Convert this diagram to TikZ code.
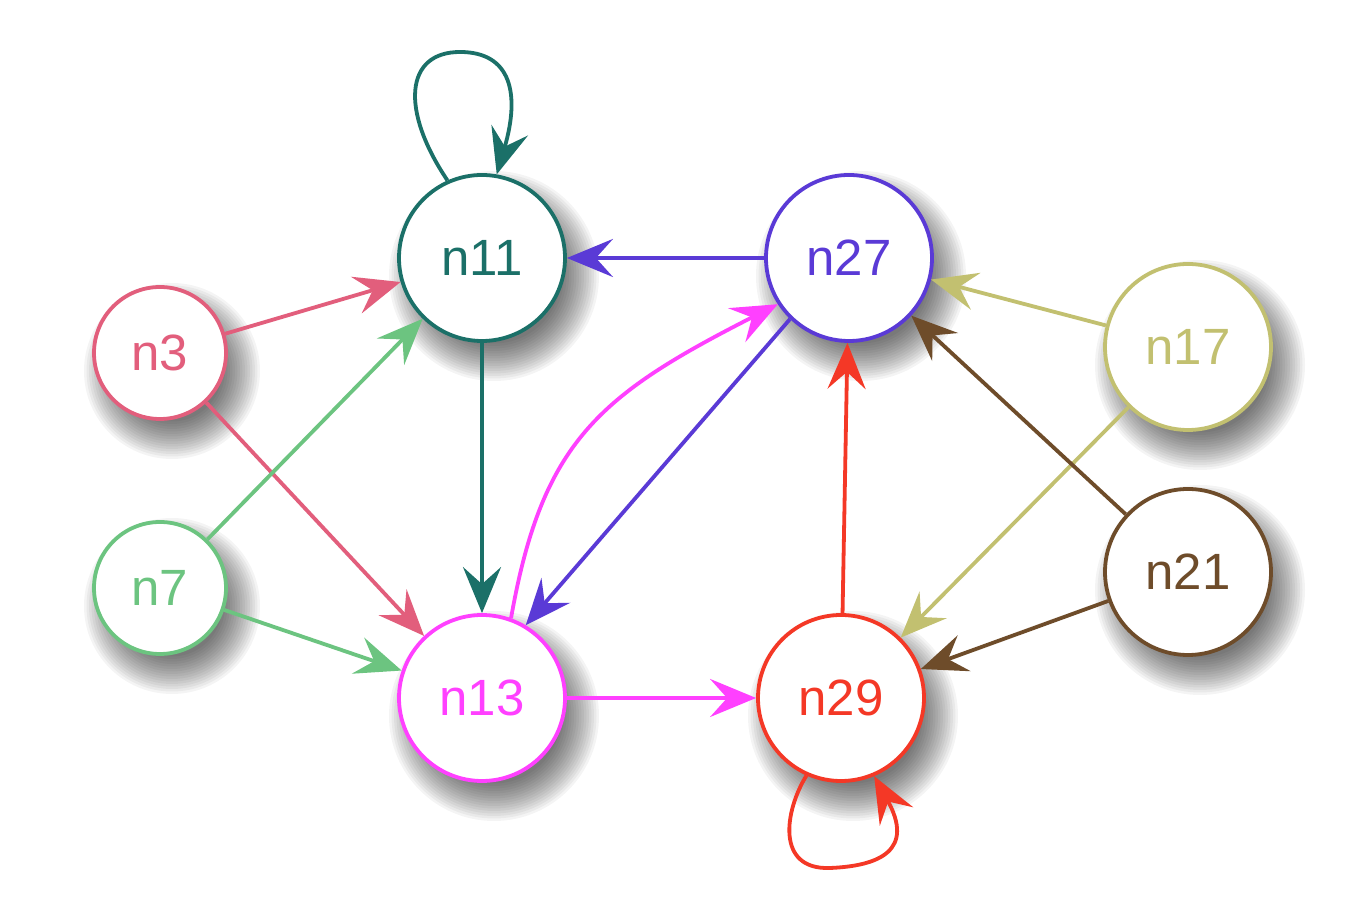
\documentclass[tikz,border=0pt]{standalone}
\usepackage{fontspec}
\setmainfont{Liberation Sans}
\usetikzlibrary{arrows.meta}
\definecolor{c3}{RGB}{226,94,124}
\definecolor{c7}{RGB}{108,196,128}
\definecolor{c11}{RGB}{27,112,104}
\definecolor{c13}{RGB}{255,64,255}
\definecolor{c27}{RGB}{90,58,214}
\definecolor{c29}{RGB}{244,56,38}
\definecolor{c17}{RGB}{194,192,112}
\definecolor{c21}{RGB}{110,76,42}
\begin{document}
\begin{tikzpicture}[x=1pt,y=1pt,
  nd/.style={circle, draw, fill=white, line width=3.8pt, inner sep=0pt, font=\fontsize{51}{60}\selectfont},
  bignode/.style={nd, minimum size=166pt},
  smallnode/.style={nd, minimum size=132pt},
  edge/.style={line width=3.8pt, -{Stealth[length=46pt,width=38pt,inset=17pt]}},
]
\useasboundingbox (0,0) rectangle (1360,920);
\fill[white] (0,0) rectangle (1360,920);
% shadows
\foreach \x/\y/\r in {160/567/66, 160/332/66, 482/662/83, 482/222/83, 849/662/83, 841/222/83, 1188/573/83, 1188/348/83} {
  \foreach \k in {0,...,15} \fill[black, opacity=0.045] (\x+12,\y-18) circle ({\r+22-2.5*\k});
}
% nodes
\node[smallnode, draw=c3, text=c3] (n3) at (160,567) {n3};
\node[smallnode, draw=c7, text=c7] (n7) at (160,332) {n7};
\node[bignode, draw=c11, text=c11] (n11) at (482,662) {n11};
\node[bignode, draw=c13, text=c13] (n13) at (482,222) {n13};
\node[bignode, draw=c27, text=c27] (n27) at (849,662) {n27};
\node[bignode, draw=c29, text=c29] (n29) at (841,222) {n29};
\node[bignode, draw=c17, text=c17] (n17) at (1188,573) {n17};
\node[bignode, draw=c21, text=c21] (n21) at (1188,348) {n21};
% edges
\draw[edge, c3] (n3) -- (n11);
\draw[edge, c3] (n3) -- (n13);
\draw[edge, c7] (n7) -- (n11);
\draw[edge, c7] (n7) -- (n13);
\draw[edge, c11] (n11) -- (n13);
\draw[edge, c11] (n11.114) .. controls (400,810) and (405,868) .. (460,868) .. controls (512,868) and (520,825) .. (n11.80);
\draw[edge, c27] (n27) -- (n11);
\draw[edge, c27] (n27.226) -- (n13.59);
\draw[edge, c13] (n13.70) .. controls +(80:180) and +(207:200) .. (n27.213);
\draw[edge, c13] (n13) -- (n29);
\draw[edge, c29] (n29) -- (n27);
\draw[edge, c29] (n29.246) .. controls (785,110) and (775,50) .. (830,52) .. controls (880,54) and (915,70) .. (n29.293);
\draw[edge, c17] (n17) -- (n27);
\draw[edge, c17] (n17) -- (n29);
\draw[edge, c21] (n21) -- (n27);
\draw[edge, c21] (n21) -- (n29);
\end{tikzpicture}
\end{document}
